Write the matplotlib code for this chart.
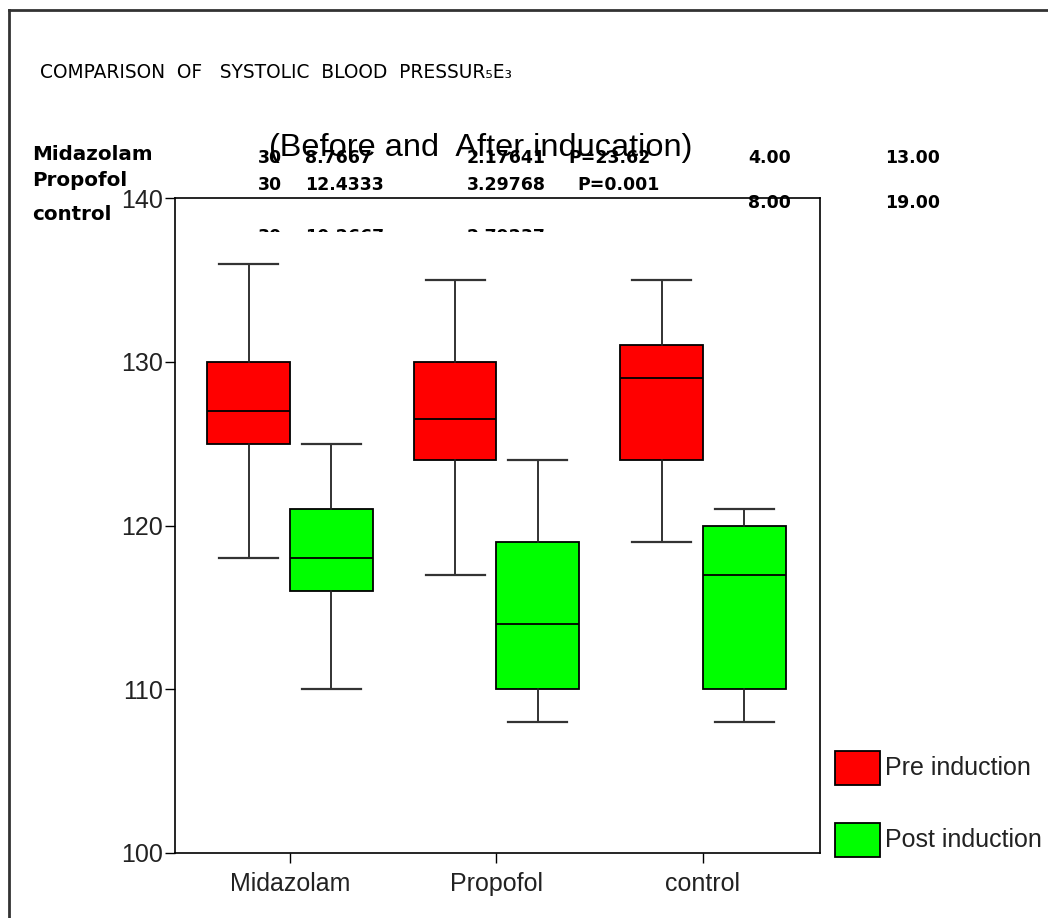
import matplotlib
matplotlib.use("Agg")
import matplotlib.pyplot as plt
from matplotlib.patches import Rectangle
from matplotlib.lines import Line2D
from matplotlib.transforms import Bbox

# ---------------- data ----------------
groups = ["Midazolam", "Propofol", "control"]
series = ["Pre induction", "Post induction"]
colors = ["#ff0000", "#00ff00"]
# five-number summaries: whisker low, Q1, median, Q3, whisker high
pre_low = [118, 117, 119]
pre_q1 = [125, 124, 124]
pre_med = [127, 126.5, 129]
pre_q3 = [130, 130, 131]
pre_high = [136, 135, 135]
post_low = [110, 108, 108]
post_q1 = [116, 110, 110]
post_med = [118, 114, 117]
post_q3 = [121, 119, 120]
post_high = [125, 124, 121]
yticks = [100, 110, 120, 130, 140]

table_labels = ["Midazolam", "Propofol", "control"]
table_row1 = ["30", "8.7667", "2.17641", "P=23.62", "4.00", "13.00"]
table_row2 = ["30", "12.4333", "3.29768", "P=0.001"]
table_row3 = ["8.00", "19.00"]
table_row4 = ["30", "10.2667", "2.79237"]

header = "COMPARISON  OF   SYSTOLIC  BLOOD  PRESSUR\u2085E\u2083"
title = "(Before and  After inducation)"

W, H = 1048, 918
fig = plt.figure(figsize=(W / 100, H / 100), dpi=100)
fig.patch.set_facecolor("white")

def fx(px):
    return px / W

def fy(py):
    return 1 - py / H

ax = fig.add_axes([fx(175), fy(853), fx(820) - fx(175), fy(198) - fy(853)])

def stats(lo, q1, med, q3, hi):
    return [dict(whislo=a, q1=b, med=c, q3=d, whishi=e, fliers=[])
            for a, b, c, d, e in zip(lo, q1, med, q3, hi)]

pos = list(range(1, len(groups) + 1))
sets = [stats(pre_low, pre_q1, pre_med, pre_q3, pre_high),
        stats(post_low, post_q1, post_med, post_q3, post_high)]
offs = [-0.2, 0.2]
for st, off, col in zip(sets, offs, colors):
    ax.bxp(st, positions=[p + off for p in pos], widths=0.4, capwidths=0.285,
           patch_artist=True, showfliers=False,
           boxprops=dict(facecolor=col, edgecolor="black", linewidth=1.3),
           medianprops=dict(color="black", linewidth=1.3),
           whiskerprops=dict(color="#222222", linewidth=1.3),
           capprops=dict(color="#333333", linewidth=1.6))

ax.set_xlim(0.443, 3.567)
ax.set_ylim(100, 140)
ax.set_yticks(yticks)
ax.set_yticklabels([str(v) for v in yticks])
ax.set_xticks(pos)
ax.set_xticklabels(groups)
ax.tick_params(axis="both", labelsize=18, length=7, width=1, color="black",
               labelcolor="#222222")
ax.tick_params(axis="x", pad=7)
ax.tick_params(axis="y", pad=1.5)
for lab in ax.get_xticklabels() + ax.get_yticklabels():
    lab.set_family("Liberation Sans")
for s in ax.spines.values():
    s.set_linewidth(1.2)
    s.set_color("black")

# outer frame (left and top edges visible)
fig.add_artist(Line2D([fx(9), fx(9)], [fy(10), 0], color="#333333", lw=2))
fig.add_artist(Line2D([fx(9), 1], [fy(10), fy(10)], color="#333333", lw=2))

# header
fig.text(fx(40), fy(72), header, fontsize=13.4, family="DejaVu Sans",
         va="center", ha="left", color="black")

# table text
bold = dict(family="DejaVu Sans", fontweight="bold", fontsize=12.5,
            va="center", ha="left", color="black")
for lab, y in zip(table_labels, [155, 180, 215]):
    fig.text(fx(32), fy(y), lab, **dict(bold, fontsize=14.3))
xs1 = [258, 305, 467, 568, 748, 885]
for t, x in zip(table_row1, xs1):
    fig.text(fx(x), fy(158), t, **bold)
xs2 = [258, 305, 467, 577]
for t, x in zip(table_row2, xs2):
    fig.text(fx(x), fy(185), t, **bold)
xs3 = [748, 885]
for t, x in zip(table_row3, xs3):
    fig.text(fx(x), fy(203), t, **bold, zorder=5)
xs4 = [258, 305, 467]
clip = Bbox.from_extents(0, H - 232, W, H - 180)
for t, x in zip(table_row4, xs4):
    tt = fig.text(fx(x), fy(236.5), t, **bold)
    tt.set_clip_box(clip)
    tt.set_clip_on(True)

# title
fig.text(fx(481), fy(148), title, fontsize=23.4, family="Liberation Sans",
         ha="center", va="center", color="black", zorder=6)

# legend
for col, lab, y in zip(colors, series, [768, 840]):
    fig.add_artist(Rectangle((fx(835), fy(y + 17)), fx(880) - fx(835),
                             fy(y - 17) - fy(y + 17), facecolor=col,
                             edgecolor="black", linewidth=1.3))
    fig.text(fx(885), fy(y), lab, fontsize=18, family="Liberation Sans",
             ha="left", va="center", color="#222222")

fig.savefig("out.png", dpi=100)
